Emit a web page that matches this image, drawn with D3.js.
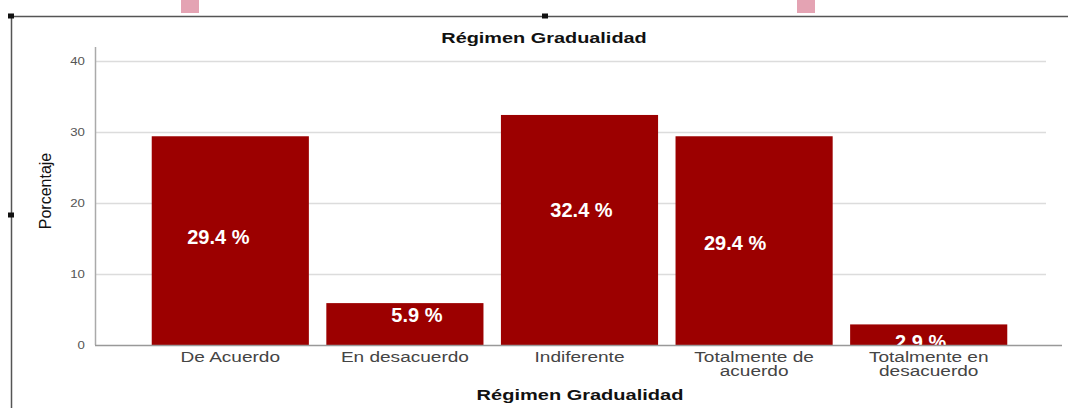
<!DOCTYPE html>
<html>
<head>
<meta charset="utf-8">
<script src="https://cdn.jsdelivr.net/npm/d3@7"></script>
<style>
  body { margin: 0; background: #fff; }
  svg { display: block; }
</style>
</head>
<body>
<div id="chart"></div>
<script>
// data
var categories = ["De Acuerdo", "En desacuerdo", "Indiferente", "Totalmente de acuerdo", "Totalmente en desacuerdo"];
var tickLines = [["De Acuerdo"], ["En desacuerdo"], ["Indiferente"], ["Totalmente de", "acuerdo"], ["Totalmente en", "desacuerdo"]];
var percents = [29.4, 5.9, 32.4, 29.4, 2.9];
var yTicks = [0, 10, 20, 30, 40];
// where SPSS left the value labels (data units, baseline)
var labelAt = [14.2, 3.2, 18.0, 13.4, -0.6];
var labelShift = [-12, 12, 2, -19, -8];

var width = 1068, height = 408;
var plot = { left: 95, right: 1046, top: 47, bottom: 345 };
var stretch = 1.36;   // the screenshot was squashed/stretched sideways

var svg = d3.select("#chart").append("svg")
    .attr("width", width)
    .attr("height", height)
    .style("font-family", "Arial, 'Liberation Sans', sans-serif");

// bits of the surrounding document frame
svg.append("rect").attr("x", 181).attr("y", 0).attr("width", 18).attr("height", 13).attr("fill", "#e4a3b3");
svg.append("rect").attr("x", 797).attr("y", 0).attr("width", 18).attr("height", 13).attr("fill", "#e4a3b3");
svg.append("line").attr("x1", 11).attr("x2", 1068).attr("y1", 16.5).attr("y2", 16.5).attr("stroke", "#555").attr("stroke-width", 1.5);
svg.append("line").attr("x1", 11.5).attr("x2", 11.5).attr("y1", 16).attr("y2", 408).attr("stroke", "#555").attr("stroke-width", 1.5);
[[11, 16], [545, 16], [11, 215]].forEach(function(p) {
  svg.append("rect").attr("x", p[0] - 3).attr("y", p[1] - 2.5).attr("width", 6).attr("height", 5).attr("fill", "#111");
});

var x = d3.scaleBand()
    .domain(categories)
    .range([143, 1016])
    .paddingInner(0.1)
    .paddingOuter(0.05);

var y = d3.scaleLinear()
    .domain([0, 40])
    .range([plot.bottom, 61]);

// grid
svg.append("g")
  .selectAll("line")
  .data(yTicks.slice(1))
  .enter().append("line")
  .attr("x1", plot.left)
  .attr("x2", plot.right)
  .attr("y1", function(d) { return y(d) + 0.5; })
  .attr("y2", function(d) { return y(d) + 0.5; })
  .attr("stroke", "#dcdcdc")
  .attr("stroke-width", 1.5);

// y axis
var yAxis = svg.append("g")
    .attr("transform", "translate(" + plot.left + ",0)")
    .call(d3.axisLeft(y).tickValues(yTicks).tickSize(0).tickPadding(10));
yAxis.select(".domain").remove();
yAxis.selectAll("text")
    .attr("transform", "scale(1.2,1)")
    .attr("x", -8.5)
    .style("font-size", "11px")
    .style("fill", "#555");
svg.append("line")
  .attr("x1", plot.left + 0.5).attr("x2", plot.left + 0.5)
  .attr("y1", plot.top).attr("y2", plot.bottom)
  .attr("stroke", "#aaa").attr("stroke-width", 1.5);

svg.append("defs").append("clipPath").attr("id", "plotclip")
  .append("rect")
  .attr("x", plot.left).attr("y", plot.top)
  .attr("width", plot.right - plot.left).attr("height", plot.bottom - plot.top);

// bars
svg.append("g")
  .selectAll("rect")
  .data(percents)
  .enter().append("rect")
  .attr("x", function(d, i) { return x(categories[i]); })
  .attr("y", function(d) { return y(d); })
  .attr("width", x.bandwidth())
  .attr("height", function(d) { return y(0) - y(d); })
  .attr("fill", "#9c0000");

// value labels
svg.append("g")
  .attr("clip-path", "url(#plotclip)")
  .selectAll("text")
  .data(percents)
  .enter().append("text")
  .attr("x", function(d, i) { return x(categories[i]) + x.bandwidth() / 2 + labelShift[i]; })
  .attr("y", function(d, i) { return y(labelAt[i]); })
  .attr("text-anchor", "middle")
  .style("font-size", "20px")
  .style("font-weight", "bold")
  .style("fill", "#fff")
  .text(function(d) { return d.toFixed(1) + " %"; });

// x baseline
svg.append("line")
  .attr("x1", plot.left).attr("x2", 1062)
  .attr("y1", plot.bottom + 0.5).attr("y2", plot.bottom + 0.5)
  .attr("stroke", "#999").attr("stroke-width", 1.5);

// x tick labels
svg.append("g")
  .selectAll("g")
  .data(categories)
  .enter().append("g")
  .attr("transform", function(d) { return "translate(" + (x(d) + x.bandwidth() / 2) + ",362) scale(" + stretch + ",1)"; })
  .each(function(d, i) {
    var t = d3.select(this).append("text")
      .attr("text-anchor", "middle")
      .style("font-size", "14px")
      .style("fill", "#444");
    tickLines[i].forEach(function(line, j) {
      t.append("tspan")
        .attr("x", 0)
        .attr("dy", j === 0 ? 0 : 14)
        .text(line);
    });
  });

// titles
svg.append("text")
  .attr("transform", "translate(544,43) scale(1.42,1)")
  .attr("text-anchor", "middle")
  .style("font-size", "14px")
  .style("font-weight", "bold")
  .style("fill", "#111")
  .text("Régimen Gradualidad");

svg.append("text")
  .attr("transform", "translate(580,400) scale(1.38,1)")
  .attr("text-anchor", "middle")
  .style("font-size", "14.5px")
  .style("font-weight", "bold")
  .style("fill", "#111")
  .text("Régimen Gradualidad");

svg.append("text")
  .attr("transform", "translate(51,191) rotate(-90)")
  .attr("text-anchor", "middle")
  .style("font-family", "'Liberation Sans Narrow', Arial, sans-serif")
  .style("font-size", "16px")
  .style("fill", "#111")
  .text("Porcentaje");
</script>
</body>
</html>
